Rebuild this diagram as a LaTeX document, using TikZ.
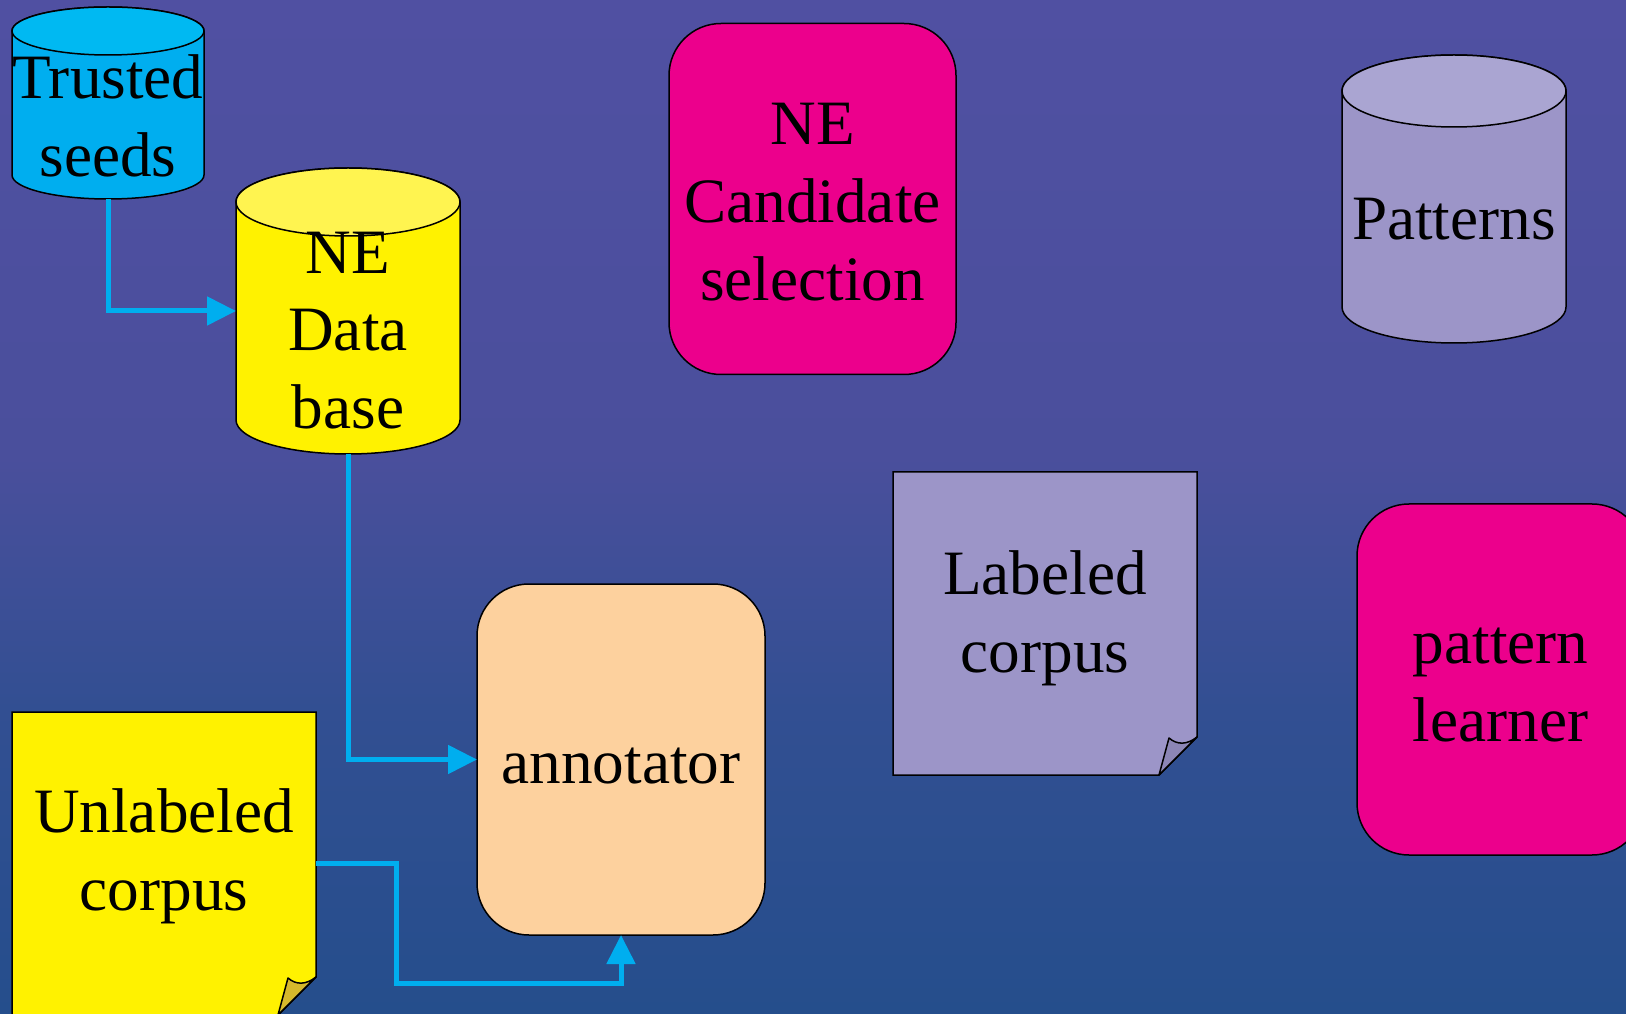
\documentclass[tikz,border=0pt]{standalone}
\usepackage{fontspec}
\setmainfont{Liberation Serif}
\usetikzlibrary{arrows.meta,calc}
\definecolor{bgtop}{RGB}{80,80,162}
\definecolor{bgmid}{RGB}{74,79,156}
\definecolor{bglow}{RGB}{50,79,146}
\definecolor{bgbot}{RGB}{37,78,140}
\definecolor{cyanline}{RGB}{0,174,239}
\definecolor{tsbody}{RGB}{0,174,239}
\definecolor{tstop}{RGB}{0,185,242}
\definecolor{ylw}{RGB}{255,242,0}
\definecolor{ylwtop}{RGB}{255,244,80}
\definecolor{ylwflap}{RGB}{214,185,44}
\definecolor{mag}{RGB}{236,0,140}
\definecolor{lav}{RGB}{156,149,200}
\definecolor{lavtop}{RGB}{170,165,210}
\definecolor{lavflap}{RGB}{140,134,182}
\definecolor{peach}{RGB}{253,209,158}
\pgfdeclareverticalshading{bgshade}{100bp}{color(0bp)=(bgbot); color(25bp)=(bgbot); color(40bp)=(bglow); color(52.5bp)=(bgmid); color(75bp)=(bgtop); color(100bp)=(bgtop)}
\newcommand\mycyl[8]{%
  \node[shapebox,minimum width=#4*0.5pt,minimum height=#5*0.5pt] (#1) at (#2,#3) {};
  \filldraw[outline,fill=#7] ($(#1.north west)+(0,-#6)$) -- ($(#1.south west)+(0,#6)$)
     arc[start angle=180,end angle=360,x radius=#4*0.25pt,y radius=#6*0.5pt]
     -- ($(#1.north east)+(0,-#6)$)
     arc[start angle=0,end angle=180,x radius=#4*0.25pt,y radius=#6*0.5pt] -- cycle;
  \filldraw[outline,fill=#8] ($(#1.north)+(0,-#6)$) ellipse[x radius=#4*0.25pt,y radius=#6*0.5pt];
}
\newcommand\mysheet[5]{%
  \node[shapebox,minimum width=152pt,minimum height=151.5pt] (#1) at (#2,#3) {};
  \filldraw[outline] [fill=#4] (#1.north west) -- (#1.north east) -- ($(#1.south east)+(0,38)$)
     -- ($(#1.south east)+(-38,0)$) -- (#1.south west) -- cycle;
  \filldraw[outline,fill=#5,line join=round] ($(#1.south east)+(0,38)$)
     .. controls ($(#1.south east)+(-10,30)$) and ($(#1.south east)+(-20,30)$) .. ($(#1.south east)+(-28,37)$)
     -- ($(#1.south east)+(-38,0)$) -- cycle;
}
\begin{document}
\begin{tikzpicture}[x=0.5pt,y=0.5pt,
  shapebox/.style={rectangle,inner sep=0pt,outer sep=0pt},
  proc/.style={shapebox,draw=black,line width=0.75pt,rounded corners=26pt,minimum width=143.5pt,minimum height=175.5pt},
  lbl/.style={inner sep=0pt,align=center,font=\fontsize{31.6}{38.9}\selectfont,text=black},
  outline/.style={draw=black,line width=0.75pt},
  flow/.style={draw=cyanline,line width=2.5pt,-{Triangle[length=14.5pt,width=14pt]}}
]
\useasboundingbox (0,0) rectangle (1626,1013);
\clip (0,0) rectangle (1626,1013);
\shade[shading=bgshade] (0,0) rectangle (1626,1013);

\mycyl{ts}{108}{910}{192}{192}{24}{tsbody}{tstop}
\mycyl{db}{348}{702}{224}{286}{34}{ylw}{ylwtop}
\mycyl{pat}{1454}{814}{224}{288}{36}{lav}{lavtop}

\node[proc,fill=mag] (cand) at (812.5,814) {};
\node[proc,fill=mag] (pl) at (1500.5,333.5) {};
\node[proc,fill=peach,minimum width=144pt] (ann) at (621,253.5) {};

\mysheet{lab}{1045}{389.5}{lav}{lavflap}
\mysheet{unl}{164}{149.5}{ylw}{ylwflap}

\node[lbl] (tsT) at (108,897) {Trusted\\seeds};
\node[lbl] (dbT) at (348,682.5) {NE\\Data\\base};
\node[lbl] (candT) at (812.5,811) {NE\\Candidate\\selection};
\node[lbl] (patT) at (1454,794) {Patterns};
\node[lbl] (labT) at (1045,395) {Labeled\\corpus};
\node[lbl] (plT) at (1500.5,328) {pattern\\learner};
\node[lbl] (annT) at (621,247) {annotator};
\node[lbl] (unlT) at (164,156.5) {Unlabeled\\corpus};

\draw[flow] (ts.south) |- (db.west);
\draw[flow] (db.south) |- (ann.west);
\draw[flow] (unl.east) -- ++(80,0) |- ($(ann.south)+(0,-48)$) -- (ann.south);
\end{tikzpicture}
\end{document}
